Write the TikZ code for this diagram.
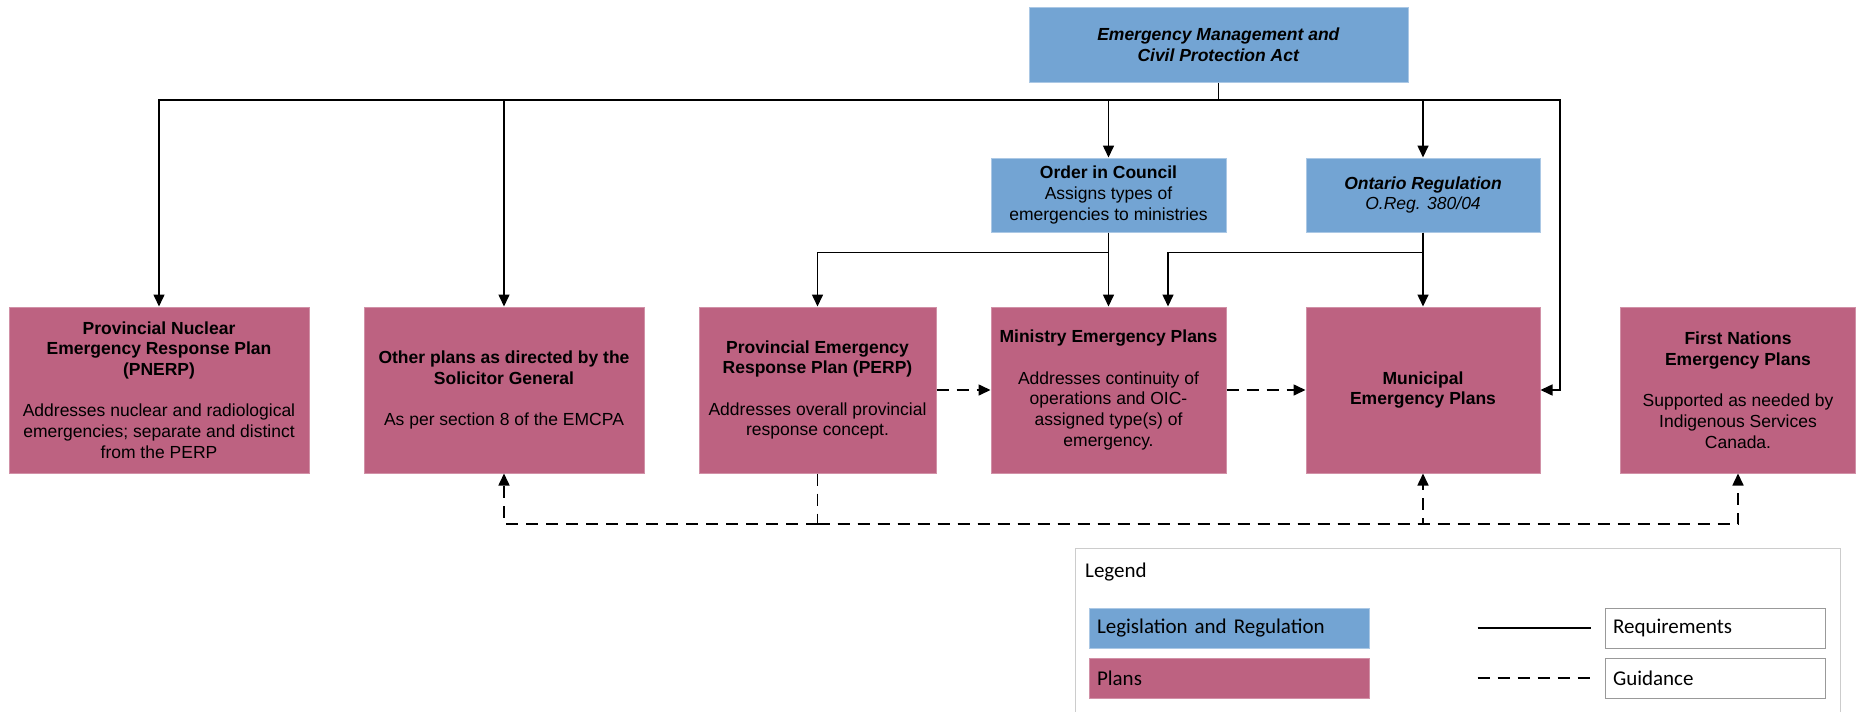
\documentclass[tikz,border=0pt]{standalone}
\usepackage{fontspec}
\setmainfont{Liberation Sans}
\newfontfamily\legfont{Carlito}
\usetikzlibrary{arrows.meta}

\definecolor{lawblue}{RGB}{115,164,211}
\definecolor{planpink}{RGB}{189,98,129}

\begin{document}
\begin{tikzpicture}[x=1pt, y=-1pt, >={Triangle[length=12pt,width=11pt]}]
\fontsize{17.5}{20.7}\selectfont

\tikzstyle{law}   = [fill=lawblue, draw=lawblue!60!white, line width=1pt, align=center, inner sep=2pt, minimum height=74pt]
\tikzstyle{plan}  = [fill=planpink, draw=planpink!70!white, line width=1pt, align=center, inner sep=2pt, minimum height=166pt]
\tikzstyle{req}   = [draw, black, line width=1.6pt]
\tikzstyle{guide} = [req, dash pattern=on 12pt off 8pt]
\tikzstyle{key}   = [draw=gray!80, line width=1pt, fill=white, minimum height=40pt, inner sep=8pt, align=left, font=\legfont\fontsize{21}{25}\selectfont]

\useasboundingbox (0,0) rectangle (1866,712);

% legislation
\node [law, minimum width=379pt, minimum height=75pt] (EMCPA) at (1218.5,44.5)
  {\textbf{\textit{Emergency Management and}}\\\textbf{\textit{Civil Protection Act}}};
\node [law, minimum width=235pt] (OIC) at (1108.5,195)
  {\textbf{Order in Council}\\Assigns types of\\emergencies to ministries};
\node [law, minimum width=234pt] (OReg) at (1423,195)
  {\textbf{\textit{Ontario Regulation}}\\\textit{O.Reg. 380/04}};

% plans
\node [plan, minimum width=300pt] (PNERP) at (159,390)
  {\textbf{Provincial Nuclear}\\\textbf{Emergency Response Plan}\\\textbf{(PNERP)}\\[20.7pt]Addresses nuclear and radiological\\emergencies; separate and distinct\\from the PERP};
\node [plan, minimum width=280pt] (Other) at (504,390)
  {\textbf{Other plans as directed by the}\\\textbf{Solicitor General}\\[20.7pt]As per section 8 of the EMCPA};
\node [plan, minimum width=237pt] (PERP) at (817.5,390)
  {\textbf{Provincial Emergency}\\\textbf{Response Plan (PERP)}\\[20.7pt]Addresses overall provincial\\response concept.};
\node [plan, minimum width=235pt] (Ministry) at (1108.5,390)
  {\textbf{Ministry Emergency Plans}\\[20.7pt]Addresses continuity of\\operations and OIC-\\assigned type(s) of\\emergency.};
\node [plan, minimum width=234pt] (Municipal) at (1423,390)
  {\textbf{Municipal}\\\textbf{Emergency Plans}};
\node [plan, minimum width=235pt] (FirstNations) at (1738,390)
  {\textbf{First Nations}\\\textbf{Emergency Plans}\\[20.7pt]Supported as needed by\\Indigenous Services\\Canada.};

% requirements
\coordinate (Bus) at (1218.5,100);
\coordinate (MunEast) at (1560,390);
\draw [req] (EMCPA.south) -- (Bus);
\draw [req, ->] (Bus) -| (PNERP.north);
\draw [req, ->] (Bus) -| (Other.north);
\draw [req, ->] (Bus) -| (OIC.north);
\draw [req, ->] (Bus) -| (OReg.north);
\draw [req, ->] (Bus) -| (MunEast) -- (Municipal.east);
\draw [req, ->] (OIC.south) -- (Ministry.north);
\draw [req, ->] (OIC.south) -- ++(0,20) -| (PERP.north);
\draw [req, ->] (OReg.south) -- (Municipal.north);
\draw [req, ->] (OReg.south) -- ++(0,20) -| ([xshift=59.5pt]Ministry.north);

% guidance
\coordinate (GBus) at (817.5,524);
\draw [guide, ->] (PERP.east) -- (Ministry.west);
\draw [guide, ->] (Ministry.east) -- (Municipal.west);
\draw [guide] (PERP.south) -- (GBus);
\draw [guide, ->] (GBus) -| (Other.south);
\draw [guide, ->] (GBus) -| (Municipal.south);
\draw [guide, ->] (GBus) -| (FirstNations.south);

% legend
\draw [draw=gray!40, line width=1pt] (1075,716) |- (1840,548) -- (1840,716);
\node [anchor=west, inner sep=0pt, font=\legfont\fontsize{21}{25}\selectfont] (LegTitle) at (1085,572) {Legend};
\node [key, fill=lawblue, draw=lawblue!60!white, text width=264pt] (KeyLaw) at (1229,628) {Legislation and Regulation};
\node [key, fill=planpink, draw=planpink!70!white, text width=264pt] (KeyPlan) at (1229,678) {Plans};
\node [key, text width=204pt] (KeyReq) at (1715,628) {Requirements};
\node [key, text width=204pt] (KeyGuid) at (1715,678) {Guidance};
\draw [req, line width=1.2pt] ([xshift=-127pt]KeyReq.west) -- ([xshift=-14pt]KeyReq.west);
\draw [guide, line width=1.2pt] ([xshift=-127pt]KeyGuid.west) -- ([xshift=-14pt]KeyGuid.west);
\end{tikzpicture}
\end{document}
